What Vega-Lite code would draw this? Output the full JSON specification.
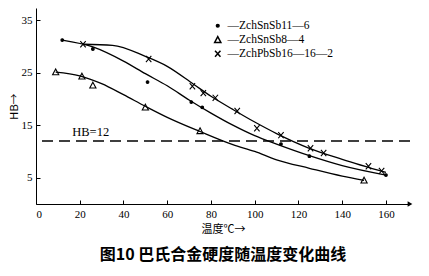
{
  "$schema": "https://vega.github.io/schema/vega-lite/v6.json",
  "width": 374,
  "height": 196,
  "autosize": "none",
  "padding": {"left": 36, "top": 8, "right": 19, "bottom": 72},
  "background": "white",
  "config": {
    "view": {"stroke": null},
    "axis": {"grid": false, "domainColor": "black", "tickColor": "black", "labelColor": "black", "titleColor": "black", "labelFont": "Liberation Serif", "titleFont": "Noto Sans CJK SC", "labelFontSize": 11, "titleFontWeight": "normal"}
  },
  "title": {"text": "图10   巴氏合金硬度随温度变化曲线", "orient": "bottom", "anchor": "middle", "font": "Noto Sans CJK SC", "fontSize": 16, "fontWeight": "bold", "color": "black", "offset": 13},
  "datasets": {
    "pts": [
      {"series": "ZchSnSb11—6", "t": 12, "hb": 31.2},
      {"series": "ZchSnSb11—6", "t": 26, "hb": 29.5},
      {"series": "ZchSnSb11—6", "t": 51, "hb": 23.2},
      {"series": "ZchSnSb11—6", "t": 71, "hb": 19.4},
      {"series": "ZchSnSb11—6", "t": 76, "hb": 18.4},
      {"series": "ZchSnSb11—6", "t": 112, "hb": 11.4},
      {"series": "ZchSnSb11—6", "t": 125, "hb": 9.1},
      {"series": "ZchSnSb11—6", "t": 160, "hb": 5.5},
      {"series": "ZchSnSb8—4", "t": 9, "hb": 25.1},
      {"series": "ZchSnSb8—4", "t": 21, "hb": 24.3},
      {"series": "ZchSnSb8—4", "t": 26, "hb": 22.6},
      {"series": "ZchSnSb8—4", "t": 50, "hb": 18.4},
      {"series": "ZchSnSb8—4", "t": 75, "hb": 13.9},
      {"series": "ZchSnSb8—4", "t": 150, "hb": 4.5},
      {"series": "ZchPbSb16—16—2", "t": 21.5, "hb": 30.4},
      {"series": "ZchPbSb16—16—2", "t": 51.5, "hb": 27.6},
      {"series": "ZchPbSb16—16—2", "t": 71.5, "hb": 22.4},
      {"series": "ZchPbSb16—16—2", "t": 76.5, "hb": 21.1},
      {"series": "ZchPbSb16—16—2", "t": 82, "hb": 20.2},
      {"series": "ZchPbSb16—16—2", "t": 92, "hb": 17.7},
      {"series": "ZchPbSb16—16—2", "t": 101, "hb": 14.4},
      {"series": "ZchPbSb16—16—2", "t": 112, "hb": 13.1},
      {"series": "ZchPbSb16—16—2", "t": 125.5, "hb": 10.6},
      {"series": "ZchPbSb16—16—2", "t": 131.5, "hb": 9.7},
      {"series": "ZchPbSb16—16—2", "t": 152, "hb": 7.2},
      {"series": "ZchPbSb16—16—2", "t": 158, "hb": 6.3}
    ],
    "curves": [
      {"series": "ZchPbSb16—16—2", "t": 21.5, "hb": 30.4},
      {"series": "ZchPbSb16—16—2", "t": 35, "hb": 30.2},
      {"series": "ZchPbSb16—16—2", "t": 50, "hb": 28.1},
      {"series": "ZchPbSb16—16—2", "t": 60, "hb": 26.2},
      {"series": "ZchPbSb16—16—2", "t": 72, "hb": 22.8},
      {"series": "ZchPbSb16—16—2", "t": 80, "hb": 20.5},
      {"series": "ZchPbSb16—16—2", "t": 90, "hb": 18},
      {"series": "ZchPbSb16—16—2", "t": 100, "hb": 15.6},
      {"series": "ZchPbSb16—16—2", "t": 110, "hb": 13.4},
      {"series": "ZchPbSb16—16—2", "t": 125, "hb": 10.6},
      {"series": "ZchPbSb16—16—2", "t": 140, "hb": 8.5},
      {"series": "ZchPbSb16—16—2", "t": 160, "hb": 6.0},
      {"series": "ZchSnSb11—6", "t": 12, "hb": 31.2},
      {"series": "ZchSnSb11—6", "t": 26, "hb": 29.9},
      {"series": "ZchSnSb11—6", "t": 40, "hb": 27.2},
      {"series": "ZchSnSb11—6", "t": 50, "hb": 24.8},
      {"series": "ZchSnSb11—6", "t": 60, "hb": 22.5},
      {"series": "ZchSnSb11—6", "t": 70, "hb": 19.8},
      {"series": "ZchSnSb11—6", "t": 80, "hb": 17.3},
      {"series": "ZchSnSb11—6", "t": 90, "hb": 15},
      {"series": "ZchSnSb11—6", "t": 100, "hb": 13},
      {"series": "ZchSnSb11—6", "t": 110, "hb": 11.4},
      {"series": "ZchSnSb11—6", "t": 125, "hb": 9.2},
      {"series": "ZchSnSb11—6", "t": 140, "hb": 7.3},
      {"series": "ZchSnSb11—6", "t": 160, "hb": 5.5},
      {"series": "ZchSnSb8—4", "t": 9, "hb": 25.1},
      {"series": "ZchSnSb8—4", "t": 20, "hb": 24.4},
      {"series": "ZchSnSb8—4", "t": 30, "hb": 22.9},
      {"series": "ZchSnSb8—4", "t": 40, "hb": 20.8},
      {"series": "ZchSnSb8—4", "t": 50, "hb": 18.6},
      {"series": "ZchSnSb8—4", "t": 60, "hb": 16.5},
      {"series": "ZchSnSb8—4", "t": 75, "hb": 13.8},
      {"series": "ZchSnSb8—4", "t": 90, "hb": 11.3},
      {"series": "ZchSnSb8—4", "t": 100, "hb": 10},
      {"series": "ZchSnSb8—4", "t": 110, "hb": 8.4},
      {"series": "ZchSnSb8—4", "t": 125, "hb": 6.8},
      {"series": "ZchSnSb8—4", "t": 140, "hb": 5.3},
      {"series": "ZchSnSb8—4", "t": 150, "hb": 4.5}
    ],
    "ref": [{"hb": 12, "label": "HB=12", "t": 25}],
    "arrow": [{"t": 171, "hb": 0}]
  },
  "layer": [
    {
      "data": {"name": "curves"},
      "mark": {"type": "line", "interpolate": "monotone", "color": "black", "strokeWidth": 1.3},
      "encoding": {
        "x": {"field": "t", "type": "quantitative", "scale": {"domain": [0, 171], "nice": false, "zero": false},
          "axis": {"values": [0,10,20,30,40,50,60,70,80,90,100,110,120,130,140,150,160], "title": "温度℃→", "titleFontSize": 11, "tickSize": -4, "labelPadding": 8, "titlePadding": 4}},
        "y": {"field": "hb", "type": "quantitative", "scale": {"domain": [0, 37.3], "nice": false},
          "axis": {"values": [5,10,15,20,25,30,35], "title": "HB→", "titleFontSize": 11, "tickSize": -4, "labelPadding": 8, "titlePadding": 2}},
        "detail": {"field": "series"}
      }
    },
    {
      "data": {"name": "pts"},
      "mark": {"type": "point", "stroke": "black", "strokeWidth": 1.1, "opacity": 1},
      "encoding": {
        "x": {"field": "t", "type": "quantitative"},
        "y": {"field": "hb", "type": "quantitative"},
        "shape": {"field": "series", "type": "nominal",
          "scale": {"domain": ["ZchSnSb11—6", "ZchSnSb8—4", "ZchPbSb16—16—2"],
            "range": ["M-0.35,0A0.35,0.35 0 1,1 0.35,0A0.35,0.35 0 1,1 -0.35,0Z", "M0,-0.8L0.8,0.7L-0.8,0.7Z", "M-0.7,-0.8L0.7,0.8M-0.7,0.8L0.7,-0.8"]},
          "legend": {"orient": "none", "legendX": 176, "legendY": 12, "title": null, "labelExpr": "'—' + datum.label", "labelFont": "Liberation Serif", "labelFontSize": 11.5, "labelColor": "black", "symbolSize": 60, "rowPadding": 1, "labelOffset": 4,
            "encode": {"symbols": {"update": {"stroke": {"value": "black"}, "strokeWidth": {"value": 1.1}, "opacity": {"value": 1}, "fill": {"signal": "datum.value === 'ZchSnSb11—6' ? 'black' : 'transparent'"}}}}}},
        "fill": {"field": "series", "type": "nominal",
          "scale": {"domain": ["ZchSnSb11—6", "ZchSnSb8—4", "ZchPbSb16—16—2"], "range": ["black", "transparent", "transparent"]},
          "legend": null},
        "size": {"value": 60}
      }
    },
    {
      "data": {"name": "ref"},
      "mark": {"type": "rule", "color": "black", "strokeWidth": 1.5, "strokeDash": [11, 6]},
      "encoding": {"y": {"field": "hb", "type": "quantitative"}}
    },
    {
      "data": {"name": "ref"},
      "mark": {"type": "text", "font": "Liberation Serif", "fontSize": 12.5, "color": "black", "baseline": "middle"},
      "encoding": {"x": {"field": "t", "type": "quantitative"}, "y": {"value": 124}, "text": {"field": "label"}}
    },
    {
      "data": {"name": "arrow"},
      "mark": {"type": "point", "shape": "triangle-right", "filled": true, "color": "black", "size": 30, "opacity": 1},
      "encoding": {"x": {"field": "t", "type": "quantitative"}, "y": {"field": "hb", "type": "quantitative"}}
    }
  ]
}
